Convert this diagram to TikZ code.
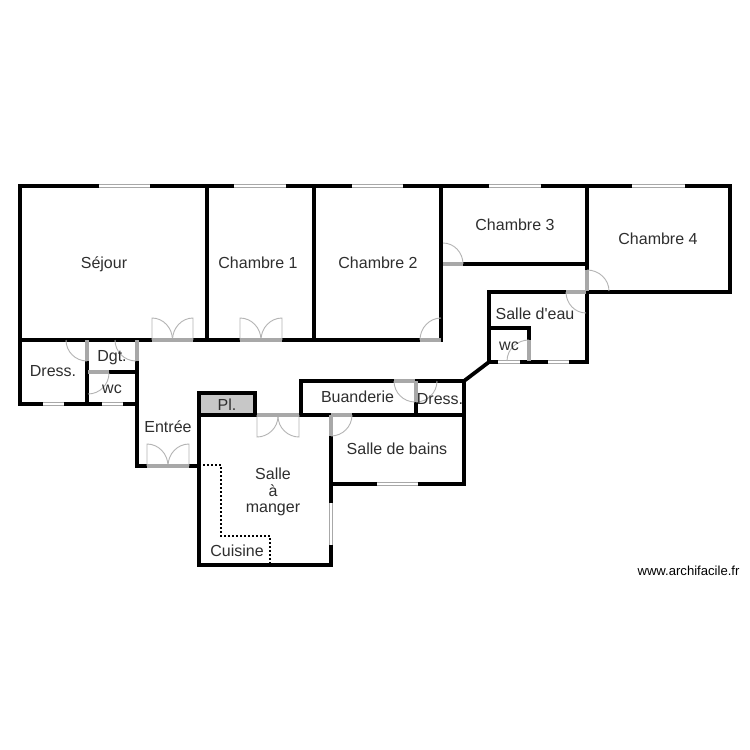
\documentclass[tikz,border=0pt]{standalone}
\usepackage{fontspec}
\setmainfont{Liberation Sans}[Ligatures=TeXOff]
\usetikzlibrary{calc}
\definecolor{doorgray}{HTML}{A8A8A8}
\definecolor{arcgray}{HTML}{B4B4B4}
\definecolor{inkgray}{HTML}{2E2E2E}
\tikzset{
  outerwall/.style={line width=3.8pt,black,line cap=square,line join=miter},
  innerwall/.style={line width=3.2pt,black,line cap=square,line join=miter},
  doorslab/.style={line width=3.6pt,doorgray},
  leaf/.style={line width=0.9pt,arcgray},
  winedge/.style={line width=4pt,doorgray},
  wincore/.style={line width=2.4pt,white},
  partition/.style={line width=2.2pt,black,dash pattern=on 2pt off 2pt},
  roomlabel/.style={anchor=base,font=\fontsize{16}{18}\selectfont,text=inkgray,inner sep=0pt,align=center},
  credit/.style={anchor=base,font=\fontsize{13.1}{15}\selectfont,text=black,inner sep=0pt}
}
% quarter arc: start, tangent corner, end
\newcommand{\qarc}[3]{\draw[leaf] (#1) .. controls ($(#1)!0.55!(#2)$) and ($(#3)!0.55!(#2)$) .. (#3);}
\newcommand{\winseg}[2]{\draw[winedge] (#1) -- (#2);\draw[wincore] (#1) -- (#2);}
% double door in a horizontal wall: left x, right x, wall y, leaf end y
\newcommand{\dbldoor}[4]{%
  \pgfmathsetmacro{\midx}{(#1+#2)/2}%
  \draw[leaf] (#1,#3) -- (#1,#4) .. controls ($(#1,#4)!0.55!(\midx,#4)$) and ($(\midx,#3)!0.55!(\midx,#4)$) .. (\midx,#3);
  \draw[leaf] (#2,#3) -- (#2,#4) .. controls ($(#2,#4)!0.55!(\midx,#4)$) and ($(\midx,#3)!0.55!(\midx,#4)$) .. (\midx,#3);
  \draw[doorslab] (#1,#3) -- (#2,#3);}
\begin{document}
\begin{tikzpicture}[x=1pt,y=-1pt]
\useasboundingbox (0,0) rectangle (750,750);
\fill[white] (0,0) rectangle (750,750);
% placard
\fill[fill=black!22] (199,393) rectangle (255,415);
% dotted kitchen partition
\draw[partition] (203,465) -- (221,465) -- (221,536) -- (270,536) -- (270,564);
% outer walls
\draw[outerwall] (20,186) -- (730,186) -- (730,292) -- (587,292) -- (587,362) -- (489,362) -- (464,381) -- (464,484) -- (331,484) -- (331,565) -- (199,565) -- (199,466) -- (137,466) -- (137,404) -- (20,404) -- cycle;
\draw[outerwall] (301,415) -- (301,381) -- (464,381);
\draw[outerwall] (199,466) -- (199,393) -- (255,393) -- (255,415);
\draw[outerwall] (199,415) -- (301,415);
\draw[innerwall] (301,415) -- (464,415);
\draw[outerwall] (331,484) -- (331,415);
% inner walls
\draw[innerwall] (20,340) -- (441,340) -- (441,186);
\draw[innerwall] (207,186) -- (207,340);
\draw[innerwall] (314,186) -- (314,340);
\draw[innerwall] (441,264) -- (587,264);
\draw[innerwall] (587,186) -- (587,292);
\draw[innerwall] (489,362) -- (489,292) -- (587,292);
\draw[innerwall] (489,328) -- (529,328) -- (529,345);
\draw[innerwall] (416,381) -- (416,415);
\draw[innerwall] (87,340) -- (87,404);
\draw[innerwall] (137,340) -- (137,404);
\draw[innerwall] (87,372) -- (137,372);
% windows
\winseg{99,186}{150,186}
\winseg{234,186}{286,186}
\winseg{352,186}{403,186}
\winseg{489,186}{541,186}
\winseg{632,186}{685,186}
\winseg{498,362}{520,362}
\winseg{548,362}{569,362}
\winseg{377,484}{418,484}
\winseg{43,404}{64,404}
\winseg{102,404}{123,404}
\winseg{331,503}{331,545}
% double doors
\dbldoor{152}{193}{340}{318}
\dbldoor{240}{282}{340}{318}
\dbldoor{147}{189}{466}{444}
\draw[leaf] (257,415) -- (257,437) .. controls (268,437) and (278,428) .. (278,416);
\draw[leaf] (299,415) -- (299,437) .. controls (288,437) and (278,428) .. (278,416);
\draw[doorslab] (257,415) -- (299,415);
% single doors
\draw[doorslab] (420,340) -- (441,340); \qarc{420,340}{420,318}{441,318}
\draw[doorslab] (443,264) -- (463,264); \qarc{463,264}{463,243}{443,243}
\draw[doorslab] (587,270) -- (587,291); \qarc{587,270}{609,270}{609,291}
\draw[doorslab] (566,292) -- (586,292); \qarc{566,292}{566,313}{586,313}
\draw[doorslab] (529,340) -- (529,361); \qarc{529,340}{507,340}{507,361}
\draw[doorslab] (394,381) -- (415,381); \qarc{394,381}{394,402}{415,402}
\draw[doorslab] (416,381) -- (416,402); \qarc{416,402}{437,402}{437,381}
\draw[doorslab] (331,415) -- (352,415); \draw[doorslab] (331,415) -- (331,436); \qarc{331,436}{352,436}{352,415}
\draw[doorslab] (87,340) -- (87,361); \qarc{66,340}{66,361}{87,361}
\draw[doorslab] (137,340) -- (137,361); \qarc{115,340}{115,361}{136,361}
\draw[doorslab] (88,372) -- (109,372); \qarc{109,373}{109,394}{88,394}
% labels
\node[roomlabel] (sejour) at (104,268) {Séjour};
\node[roomlabel] (ch1) at (258,268) {Chambre 1};
\node[roomlabel] (ch2) at (378,268) {Chambre 2};
\node[roomlabel] (ch3) at (515,230) {Chambre 3};
\node[roomlabel] (ch4) at (658,244) {Chambre 4};
\node[roomlabel] (se) at (535,319) {Salle d'eau};
\node[roomlabel] (wca) at (509,350) {wc};
\node[roomlabel] (dra) at (53,376) {Dress.};
\node[roomlabel] (dgt) at (112,361) {Dgt.};
\node[roomlabel] (wcb) at (112,393) {wc};
\node[roomlabel] (ent) at (168,432) {Entrée};
\node[roomlabel] (pl) at (227,410) {Pl.};
\node[roomlabel] (bua) at (357.5,402) {Buanderie};
\node[roomlabel] (drb) at (440,404) {Dress.};
\node[roomlabel] (sdb) at (397,454) {Salle de bains};
\node[roomlabel] (sam1) at (273,479) {Salle};
\node[roomlabel] (sam2) at (273,496) {à};
\node[roomlabel] (sam3) at (273,512) {manger};
\node[roomlabel] (cui) at (237,556) {Cuisine};
\node[credit] (site) at (688.5,575) {www.archifacile.fr};
\end{tikzpicture}
\end{document}
